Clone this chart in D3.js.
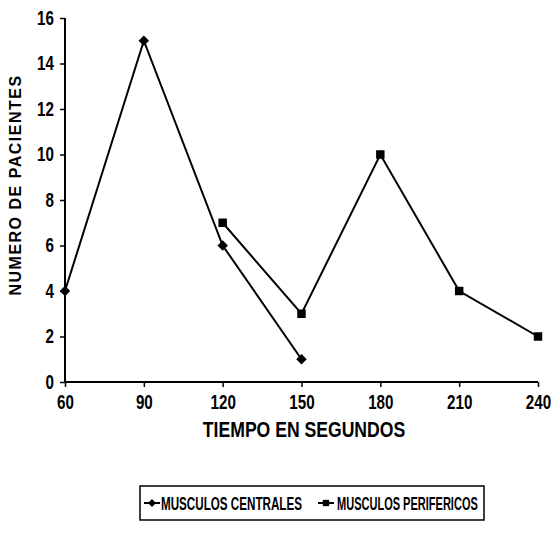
<!doctype html>
<html>
  <head>
    <meta charset="utf-8"/>
    <style>
      body { margin: 0; background: #fff; }
      text { font-family: "Liberation Sans", Arial, sans-serif; font-weight: bold; fill: #000; }
    </style>
  </head>
  <body>
    <script src="https://cdn.jsdelivr.net/npm/d3@7/dist/d3.min.js"></script>
    <script>

      const xTicks = [60, 90, 120, 150, 180, 210, 240];
      const yTicks = [0, 2, 4, 6, 8, 10, 12, 14, 16];

      const centralesX = [60, 90, 120, 150];
      const centralesY = [4, 15, 6, 1];
      const perifericosX = [120, 150, 180, 210, 240];
      const perifericosY = [7, 3, 10, 4, 2];

      const seriesNames = ['MUSCULOS CENTRALES', 'MUSCULOS PERIFERICOS'];

      const width = 556, height = 537;

      const svg = d3.select('body').append('svg')
            .attr('width', width)
            .attr('height', height);

      // the original uses a narrow bold face: squeeze the text with a scale
      const narrow = (sel, k) => sel.each(function() {
        const t = d3.select(this);
        const tx = +t.attr('x') || 0;
        t.attr('x', tx / k).attr('transform', 'scale(' + k + ',1)');
      });

      const x = d3.scaleLinear().domain([60, 240]).range([65, 538]);
      const y = d3.scaleLinear().domain([0, 16]).range([382, 18]);

      // axes
      const xAxis = svg.append('g')
            .attr('transform', 'translate(0,' + y(0) + ')')
            .call(d3.axisBottom(x).tickValues(xTicks).tickSize(5).tickPadding(8));
      const yAxis = svg.append('g')
            .attr('transform', 'translate(' + x(60) + ',0)')
            .call(d3.axisLeft(y).tickValues(yTicks).tickSize(5).tickPadding(6));

      [xAxis, yAxis].forEach(a => {
        a.select('.domain').attr('stroke', '#000').attr('stroke-width', 2);
        a.selectAll('.tick line').attr('stroke', '#000').attr('stroke-width', 1.5);
        a.selectAll('.tick text')
          .style('font-size', '20px')
          .style('font-family', '"Liberation Sans", Arial, sans-serif')
          .attr('fill', '#000')
          .call(narrow, 0.76);
      });
      xAxis.select('.domain').attr('d', 'M' + x(60) + ',0H' + x(240));
      yAxis.select('.domain').attr('d', 'M0,' + y(16) + 'V' + y(0));

      // titles
      svg.append('text')
        .attr('transform', 'translate(21,185) rotate(-90)')
        .attr('text-anchor', 'middle')
        .style('font-size', '16px')
        .style('letter-spacing', '1.5px')
        .text('NUMERO DE PACIENTES');

      svg.append('g')
        .attr('transform', 'translate(304,437)')
        .append('text')
        .attr('text-anchor', 'middle')
        .style('font-size', '22px')
        .text('TIEMPO EN SEGUNDOS')
        .call(narrow, 0.8);

      const line = d3.line().x(d => x(d[0])).y(d => y(d[1]));
      const centrales = centralesX.map((v, i) => [v, centralesY[i]]);
      const perifericos = perifericosX.map((v, i) => [v, perifericosY[i]]);

      const diamond = d3.symbol().type(d3.symbolDiamond2).size(70);
      const square = d3.symbol().type(d3.symbolSquare).size(72);

      [centrales, perifericos].forEach(s => {
        svg.append('path')
          .datum(s)
          .attr('d', line)
          .attr('fill', 'none')
          .attr('stroke', '#000')
          .attr('stroke-width', 2);
      });

      svg.append('g').selectAll('path')
        .data(centrales)
        .join('path')
        .attr('d', diamond)
        .attr('transform', d => 'translate(' + x(d[0]) + ',' + y(d[1]) + ')')
        .attr('fill', '#000');
      svg.append('g').selectAll('path')
        .data(perifericos)
        .join('path')
        .attr('d', square)
        .attr('transform', d => 'translate(' + x(d[0]) + ',' + y(d[1]) + ')')
        .attr('fill', '#000');

      // legend
      const legend = svg.append('g');
      legend.append('rect')
        .attr('x', 140)
        .attr('y', 486)
        .attr('width', 344)
        .attr('height', 34)
        .attr('fill', '#fff')
        .attr('stroke', '#000')
        .attr('stroke-width', 1.5);

      const items = [
        {name: seriesNames[0], x0: 144, sym: diamond, tx: 161},
        {name: seriesNames[1], x0: 318, sym: square, tx: 337}
      ];
      items.forEach(it => {
        legend.append('line')
          .attr('x1', it.x0).attr('x2', it.x0 + 16)
          .attr('y1', 503).attr('y2', 503)
          .attr('stroke', '#000').attr('stroke-width', 2);
        legend.append('path')
          .attr('d', d3.symbol().type(it.sym.type()).size(40)())
          .attr('transform', 'translate(' + (it.x0 + 8) + ',503)')
          .attr('fill', '#000');
        const t = legend.append('g')
          .attr('transform', 'translate(' + it.tx + ',510)')
          .append('text')
          .style('font-size', '19px')
          .text(it.name);
        const len = t.node().getComputedTextLength();
        t.attr('transform', 'scale(' + (141 / len) + ',1)');
      });
    </script>
  </body>
</html>
